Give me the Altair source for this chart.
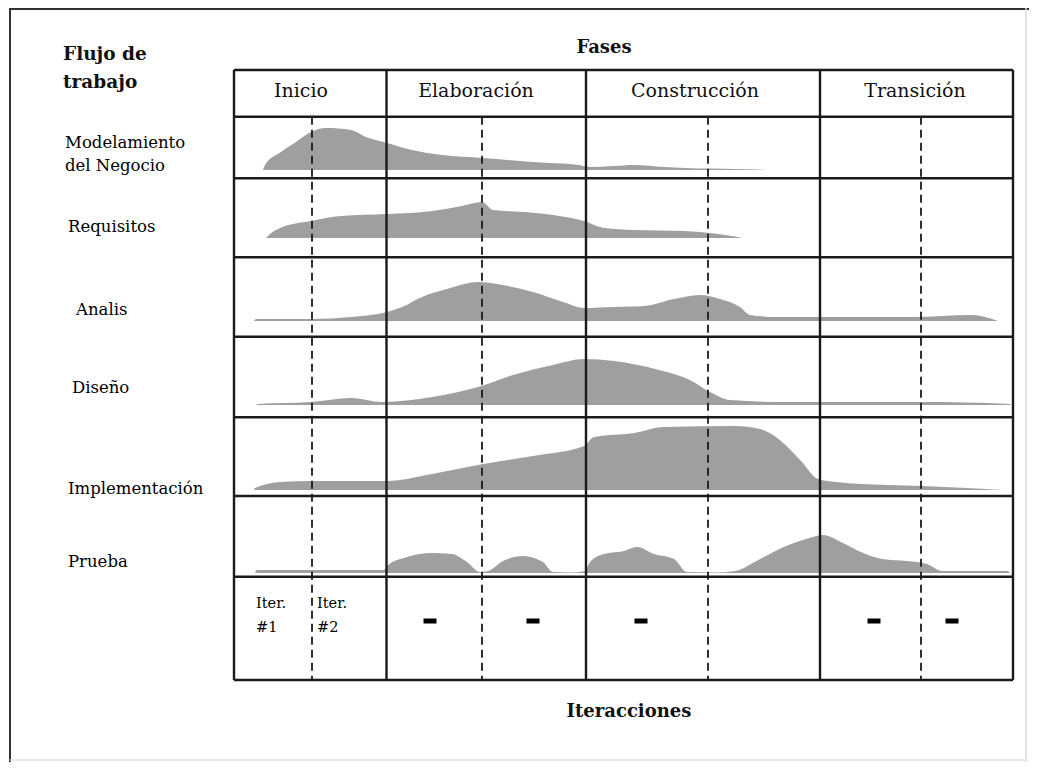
import altair as alt
import pandas as pd

# ---------------- data ----------------
# horizontal unit: original pixels from the left edge of the grid; vertical: from its top
phases = ["Inicio", "Elaboración", "Construcción", "Transición"]
phase_edges = [0, 152.5, 352, 586, 779]
iteration_lines = [78, 248, 474, 687]
dash_marks = [196, 299, 407, 640, 718]
row_edges = [0, 46.7, 108.3, 187.3, 266.7, 347.3, 426, 506.7, 610]

workflows = ["Modelamiento\ndel Negocio", "Requisitos", "Analis", "Diseño",
             "Implementación", "Prueba"]
baselines = [100, 168, 251, 335, 420, 503]

modelamiento_t = [29, 31, 47, 62, 77, 92, 117, 132, 153, 178, 208, 249, 299, 345, 355, 380, 400, 430, 451, 501, 539]
modelamiento_h = [0, 5, 18, 28, 38, 42, 40, 33, 27, 20, 15, 12, 8, 5, 3, 4, 5, 3, 2, 1, 0]

requisitos_t = [32, 36, 46, 77, 107, 153, 198, 228, 248, 259, 289, 319, 350, 370, 400, 450, 476, 509]
requisitos_h = [0, 4, 10, 17, 22, 24, 27, 32, 36, 28, 26, 23, 17, 10, 8, 7, 5, 0]

analis_t = [20, 22, 77, 117, 153, 168, 188, 213, 244, 269, 299, 329, 350, 380, 410, 440, 466, 486, 506, 516, 542, 602, 678, 738, 764]
analis_h = [0, 2, 2, 4, 9, 14, 24, 32, 39, 36, 29, 19, 13, 14, 15, 22, 26, 22, 14, 6, 4, 4, 4, 6, 0]

diseno_t = [22, 24, 77, 117, 148, 198, 244, 279, 319, 350, 380, 425, 456, 476, 496, 552, 688, 776, 777]
diseno_h = [0, 1, 3, 7, 3, 8, 18, 30, 40, 46, 44, 35, 25, 13, 5, 3, 3, 1, 0]

implementacion_t = [20, 21, 47, 77, 153, 198, 249, 299, 350, 360, 400, 430, 501, 526, 547, 567, 584, 602, 653, 688, 733, 769]
implementacion_h = [0, 2, 8, 9, 9, 16, 26, 34, 44, 53, 57, 63, 64, 61, 49, 29, 11, 8, 5, 4, 2, 0]

prueba_t = [21, 23, 150, 153, 173, 198, 218, 233, 246, 254, 269, 289, 309, 319, 336, 351, 356, 370, 390, 403, 420, 440, 453, 480, 501, 526, 552, 572, 589, 607, 627, 648, 673, 693, 708, 774, 776]
prueba_h = [0, 3, 3, 7, 16, 20, 19, 11, 1, 2, 12, 17, 11, 1, 0.5, 2, 11, 19, 22, 26, 19, 14, 1, 0.5, 2, 14, 27, 34, 38, 31, 21, 14, 12, 9, 2, 2, 0]

curves = [(modelamiento_t, modelamiento_h), (requisitos_t, requisitos_h),
          (analis_t, analis_h), (diseno_t, diseno_h),
          (implementacion_t, implementacion_h), (prueba_t, prueba_h)]

iter_labels = ["Iter.\n#1", "Iter.\n#2"]

# ---------------- layout (positions of annotations) ----------------
row_label_pos = [(-169, 78), (-166, 162), (-158, 245), (-162, 323), (-166, 424), (-166, 497)]
phase_label_x = [67, 242, 461, 681]
phase_label_y = 27
iter_label_pos = [(22, 538), (83, 538)]
dash_y = 551

FONT = "DejaVu Serif"
INK = "#1a1a1a"
W, H = 779, 610

XS = alt.Scale(domain=[0, W], nice=False, zero=False)
YS = alt.Scale(domain=[0, H], reverse=True, nice=False, zero=False)


def X(f):
    return alt.X(f, type="quantitative", scale=XS, axis=None)


def Y(f):
    return alt.Y(f, type="quantitative", scale=YS, axis=None)


# area table
rows = []
for name, base, (ts, hs) in zip(workflows, baselines, curves):
    for t, h in zip(ts, hs):
        rows.append({"wf": name, "t": t, "top": base - h, "base": base})
area_df = pd.DataFrame(rows)

areas = alt.Chart(area_df).mark_area(
    color="#9a9a9a", opacity=0.95, interpolate="monotone"
).encode(x=X("t"), y=Y("top"), y2=alt.Y2("base"), detail="wf:N")

hlines = alt.Chart(pd.DataFrame({"ry": row_edges})).mark_rule(
    color=INK, strokeWidth=2.4
).encode(y=Y("ry"), x=alt.value(0), x2=alt.value(W))

vlines = alt.Chart(pd.DataFrame({"px": phase_edges})).mark_rule(
    color=INK, strokeWidth=2.4
).encode(x=X("px"), y=alt.value(0), y2=alt.value(H))

dlines = alt.Chart(pd.DataFrame({"ix": iteration_lines})).mark_rule(
    color=INK, strokeWidth=1.8, strokeDash=[8, 5]
).encode(x=X("ix"), y=alt.value(row_edges[1]), y2=alt.value(H))

dashes = alt.Chart(pd.DataFrame({"c": dash_marks})).transform_calculate(
    a="datum.c - 6.5", b="datum.c + 6.5"
).mark_rule(color="#000", strokeWidth=5).encode(
    x=X("a:Q"), x2=alt.X2("b:Q"), y=alt.value(dash_y)
)

header_df = pd.DataFrame({"lab": phases, "lx": phase_label_x, "ly": [phase_label_y] * 4})
header = alt.Chart(header_df).mark_text(
    font=FONT, fontSize=19, color="#111", align="center", baseline="alphabetic"
).encode(x=X("lx"), y=Y("ly"), text="lab:N")

rl_df = pd.DataFrame({"lab": workflows,
                      "lx": [p[0] for p in row_label_pos],
                      "ly": [p[1] for p in row_label_pos]})
row_labels = alt.Chart(rl_df).mark_text(
    font=FONT, fontSize=16.5, color="#000", align="left", baseline="alphabetic",
    lineBreak="\n", lineHeight=23
).encode(x=X("lx"), y=Y("ly"), text="lab:N")

it_df = pd.DataFrame({"lab": iter_labels,
                      "lx": [p[0] for p in iter_label_pos],
                      "ly": [p[1] for p in iter_label_pos]})
iter_text = alt.Chart(it_df).mark_text(
    font=FONT, fontSize=14.5, color="#000", align="left", baseline="alphabetic",
    lineBreak="\n", lineHeight=24
).encode(x=X("lx"), y=Y("ly"), text="lab:N")

titles_df = pd.DataFrame({
    "lab": ["Fases", "Iteracciones"],
    "lx": [370, 395],
    "ly": [-17, 647],
})
titles = alt.Chart(titles_df).mark_text(
    font=FONT, fontSize=18, fontWeight="bold", color="#111", align="center",
    baseline="alphabetic"
).encode(x=X("lx"), y=Y("ly"), text="lab:N")

flujo = alt.Chart(pd.DataFrame({"lab": ["Flujo de\ntrabajo"], "lx": [-171], "ly": [-10]})).mark_text(
    font=FONT, fontSize=18.5, fontWeight="bold", color="#111", align="left",
    baseline="alphabetic", lineBreak="\n", lineHeight=28
).encode(x=X("lx"), y=Y("ly"), text="lab:N")

# page frame
frame_top = alt.Chart(pd.DataFrame({"k": [0]})).mark_rule(color="#333", strokeWidth=2).encode(
    x=alt.value(-224), x2=alt.value(795), y=alt.value(-61))
frame_left = alt.Chart(pd.DataFrame({"k": [0]})).mark_rule(color="#333", strokeWidth=2).encode(
    x=alt.value(-224), y=alt.value(-62), y2=alt.value(692))
frame_right = alt.Chart(pd.DataFrame({"k": [0]})).mark_rule(color="#d8d8d8", strokeWidth=1.5).encode(
    x=alt.value(792), y=alt.value(-62), y2=alt.value(692))
frame_bottom = alt.Chart(pd.DataFrame({"k": [0]})).mark_rule(color="#e2e2e2", strokeWidth=1.5).encode(
    x=alt.value(-224), x2=alt.value(792), y=alt.value(690))

chart = alt.layer(
    areas, hlines, vlines, dlines, dashes, header, row_labels, iter_text, titles, flujo,
    frame_top, frame_left, frame_right, frame_bottom
).properties(
    width=W, height=H, autosize="none",
    padding={"left": 226, "top": 62, "right": 16, "bottom": 82},
    background="white"
).configure_view(strokeWidth=0)

chart.save("out.html", embed_options={"renderer": "svg", "actions": False})
